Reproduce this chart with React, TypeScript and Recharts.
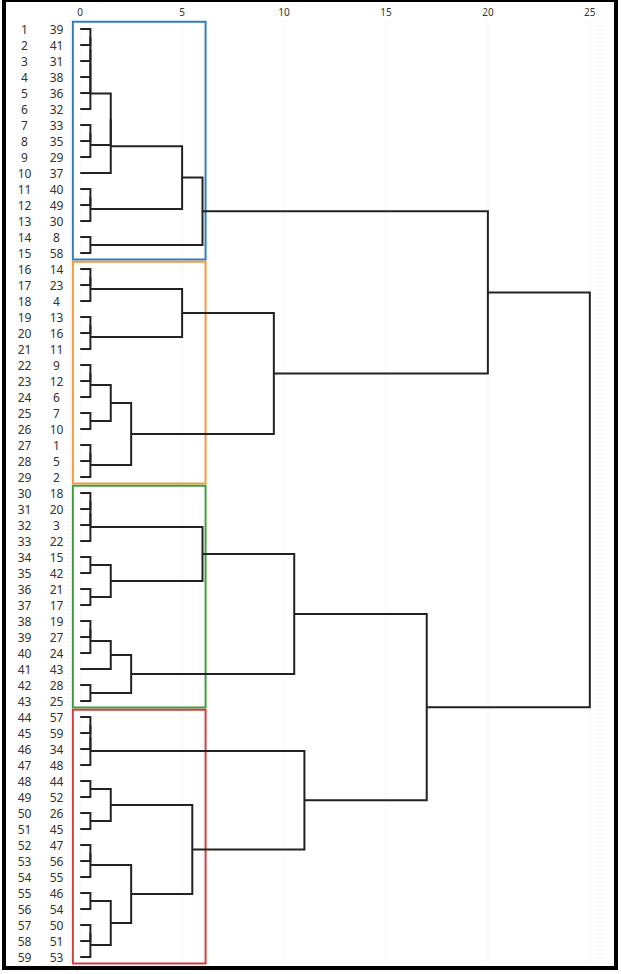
import React from 'react';
import { ScatterChart, Scatter, XAxis, YAxis, CartesianGrid, ReferenceArea } from 'recharts';

// leaf ids in dendrogram order (row 1 at top)
const leafIds = [
  39, 41, 31, 38, 36, 32, 33, 35, 29, 37, 40, 49, 30, 8, 58,
  14, 23, 4, 13, 16, 11, 9, 12, 6, 7, 10, 1, 5, 2,
  18, 20, 3, 22, 15, 42, 21, 17, 19, 27, 24, 43, 28, 25,
  57, 59, 34, 48, 44, 52, 26, 45, 47, 56, 55, 46, 54, 50, 51, 53,
];
const rows = leafIds.map((_, i) => i + 1);

// merges: [left, right, height]; positive = row of a leaf, negative = -(index of earlier merge, 1-based)
const merges: [number, number, number][] = [
  [1, 2, 0.5], [-1, 3, 0.5], [-2, 4, 0.5], [-3, 5, 0.5], [-4, 6, 0.5],
  [7, 8, 0.5], [-6, 9, 0.5], [-5, -7, 1.5], [-8, 10, 1.5],
  [11, 12, 0.5], [-10, 13, 0.5], [-9, -11, 5.0], [14, 15, 0.5], [-12, -13, 6.0],
  [16, 17, 0.5], [-15, 18, 0.5], [19, 20, 0.5], [-17, 21, 0.5], [-16, -18, 5.0],
  [22, 23, 0.5], [-20, 24, 0.5], [25, 26, 0.5], [-21, -22, 1.5],
  [27, 28, 0.5], [-24, 29, 0.5], [-23, -25, 2.5], [-19, -26, 9.5], [-14, -27, 20.0],
  [30, 31, 0.5], [-29, 32, 0.5], [-30, 33, 0.5], [34, 35, 0.5], [36, 37, 0.5],
  [-32, -33, 1.5], [-31, -34, 6.0], [38, 39, 0.5], [-36, 40, 0.5], [-37, 41, 1.5],
  [42, 43, 0.5], [-38, -39, 2.5], [-35, -40, 10.5],
  [44, 45, 0.5], [-42, 46, 0.5], [-43, 47, 0.5], [48, 49, 0.5], [50, 51, 0.5],
  [-45, -46, 1.5], [52, 53, 0.5], [-48, 54, 0.5], [55, 56, 0.5], [57, 58, 0.5],
  [-51, 59, 0.5], [-50, -52, 1.5], [-49, -53, 2.5], [-47, -54, 5.5], [-44, -55, 11.0],
  [-41, -56, 17.0], [-28, -57, 25.0],
];

// cluster boxes: [first row, last row, colour]
const clusters: [number, number, string][] = [
  [1, 15, '#2f7fbf'],
  [16, 29, '#f59a3c'],
  [30, 43, '#3f9f3f'],
  [44, 59, '#d23f3f'],
];

const xTicks = [0, 5, 10, 15, 20, 25];

const pos: number[] = [];
const nodePos = (n: number) => (n > 0 ? n : pos[-n - 1]);
const nodeH = (n: number) => (n > 0 ? 0 : merges[-n - 1][2]);
const links = merges.map(([a, b, h]) => {
  const pa = nodePos(a);
  const pb = nodePos(b);
  pos.push((pa + pb) / 2);
  return [
    { x: nodeH(a), y: pa },
    { x: h, y: pa },
    { x: h, y: pb },
    { x: nodeH(b), y: pb },
  ];
});

const font = '"Noto Sans", "DejaVu Sans", sans-serif';

const NoDot = () => <g />;

const RowTick = ({ y, payload }: any) => (
  <g>
    <text x={24.5} y={y} textAnchor="middle" dominantBaseline="central" fontFamily={font} fontSize={12} fill="#333">
      {payload.value}
    </text>
    <text x={56.5} y={y} textAnchor="middle" dominantBaseline="central" fontFamily={font} fontSize={12} fill="#333">
      {leafIds[payload.value - 1]}
    </text>
  </g>
);

const TopTick = ({ x, payload }: any) => (
  <text x={x} y={12} textAnchor="middle" dominantBaseline="central" fontFamily={font} fontSize={10} fill="#333">
    {payload.value}
  </text>
);

export default function App() {
  return (
    <div style={{ position: 'absolute', left: 0, top: 0, width: 621, height: 974, background: '#fff' }}>
      <div
        style={{
          position: 'absolute', left: 2, top: -2, width: 616, height: 972,
          border: '4px solid #000', boxSizing: 'border-box', pointerEvents: 'none', zIndex: 2,
        }}
      />
      <ScatterChart width={621} height={974} margin={{ top: 0, right: 21, bottom: 9, left: 0 }}>
        <CartesianGrid horizontal={false} stroke="#ececec" strokeDasharray="2 2" />
        <XAxis
          type="number" dataKey="x" orientation="top" domain={[-0.5, 25.5]} ticks={xTicks}
          axisLine={false} tickLine={false} height={21} tick={<TopTick />} interval={0}
        />
        <YAxis
          type="number" dataKey="y" domain={[0.5, 59.5]} reversed ticks={rows} interval={0}
          axisLine={false} tickLine={false} width={70} tick={<RowTick />}
        />
        {links.map((pts, i) => (
          <Scatter
            key={i} data={pts} shape={<NoDot />} line={{ stroke: '#222', strokeWidth: 2 }}
            isAnimationActive={false}
          />
        ))}
        {clusters.map(([a, b, c]) => (
          <ReferenceArea
            key={a} x1={-0.36} x2={6.15} y1={a - 0.45} y2={b + 0.4}
            fill="none" stroke={c} strokeWidth={2} fillOpacity={0}
          />
        ))}
      </ScatterChart>
    </div>
  );
}
